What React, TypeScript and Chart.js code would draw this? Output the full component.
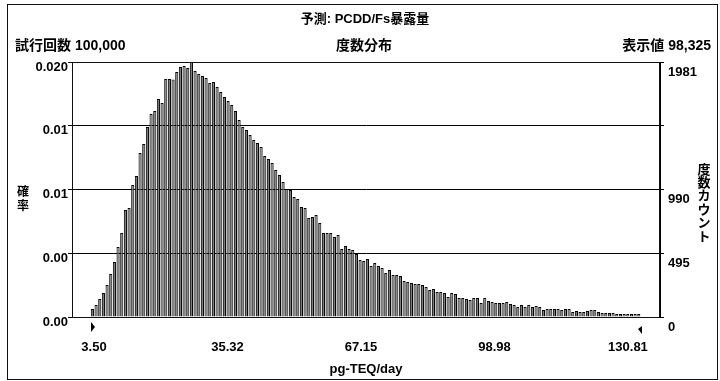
import React, { useEffect, useRef } from "react";
import { Chart, registerables } from "chart.js";

Chart.register(...registerables);

const TITLE = "予測: PCDD/Fs暴露量";
const SUBTITLE = "度数分布";
const TRIALS_LABEL = "試行回数 100,000";
const SHOWN_LABEL = "表示値 98,325";
const LEFT_AXIS_TITLE = "確率";
const RIGHT_AXIS_TITLE = "度数カウント";
const X_AXIS_TITLE = "pg-TEQ/day";

// x-axis tick values (pg-TEQ/day); first/last are the display range ends
const X_TICKS = [3.5, 35.32, 67.15, 98.98, 130.81];

// frequency counts per bin (150 bins between 3.50 and 130.81)
const COUNTS: number[] = [
  62, 93, 140, 186, 249, 334, 427, 544, 653, 831,
  847, 1026, 1096, 1274, 1344, 1476, 1577, 1601, 1694, 1663,
  1849, 1849, 1845, 1904, 1943, 1950, 1935, 1981, 1911, 1888,
  1873, 1857, 1818, 1826, 1787, 1748, 1709, 1678, 1647, 1601,
  1531, 1476, 1453, 1414, 1375, 1352, 1321, 1251, 1228, 1197,
  1142, 1103, 1049, 995, 987, 932, 917, 855, 847, 769,
  777, 793, 730, 653, 653, 653, 622, 637, 528, 552,
  528, 521, 490, 443, 435, 451, 396, 420, 396, 381,
  342, 365, 326, 326, 319, 280, 272, 264, 256, 256,
  249, 233, 210, 218, 194, 194, 186, 155, 186, 179,
  148, 148, 140, 132, 148, 148, 109, 148, 124, 117,
  109, 109, 109, 117, 101, 93, 78, 93, 78, 93,
  78, 85, 78, 54, 62, 62, 62, 62, 54, 62,
  62, 39, 47, 39, 39, 47, 54, 54, 39, 31,
  31, 31, 31, 23, 23, 23, 23, 23, 23, 23,
];

// y-axis ticks (counts) and their labels
const Y_TICKS = [0, 495.25, 990.5, 1485.75, 1981];
const PROB_LABELS = ["0.00", "0.00", "0.01", "0.01", "0.020"];
const COUNT_LABELS = ["0", "495", "990", "", "1981"];

// layout constants
const X_MIN = -0.8;
const X_MAX = 135.3;
const XL_MIN = -1.75;
const XL_MAX = 138.45;

const FONT = "'Liberation Sans', Arial, 'Noto Sans CJK JP', sans-serif";

const decor = {
  id: "decor",
  afterDraw(chart: any) {
    const { ctx, chartArea, scales } = chart;
    ctx.save();
    ctx.strokeStyle = "#111";
    ctx.lineWidth = 1;
    // outer frame
    ctx.strokeRect(7.5, 4.5, 710, 375);
    // plot box
    ctx.strokeRect(
      Math.round(chartArea.left) + 0.5,
      Math.round(chartArea.top) + 0.5,
      Math.round(chartArea.right - chartArea.left) - 1,
      Math.round(chartArea.bottom - chartArea.top)
    );
    ctx.fillStyle = "#000";
    ctx.textBaseline = "middle";
    // title
    ctx.font = `bold 13px ${FONT}`;
    ctx.textAlign = "center";
    ctx.fillText(TITLE, 365, 19);
    ctx.font = `bold 14px ${FONT}`;
    ctx.fillText(SUBTITLE, 364, 46);
    ctx.textAlign = "left";
    ctx.fillText(TRIALS_LABEL, 15, 46);
    ctx.textAlign = "right";
    ctx.fillText(SHOWN_LABEL, 711, 46);
    // vertical axis titles
    ctx.textAlign = "center";
    ctx.font = `bold 12px ${FONT}`;
    Array.from(LEFT_AXIS_TITLE).forEach((ch, i) => ctx.fillText(ch, 23, 193 + i * 14));
    ctx.font = `bold 13px ${FONT}`;
    Array.from(RIGHT_AXIS_TITLE).forEach((ch, i) => ctx.fillText(ch, 704, 170 + i * 13.4));
    // x title
    ctx.fillText(X_AXIS_TITLE, (chartArea.left + chartArea.right) / 2, 369);
    // range markers
    const xs = scales.x;
    const x0 = Math.round(xs.getPixelForValue(X_TICKS[0]));
    const x1 = Math.round(xs.getPixelForValue(X_TICKS[X_TICKS.length - 1]));
    const yb = chartArea.bottom;
    ctx.beginPath();
    ctx.moveTo(x0, yb + 5);
    ctx.lineTo(x0 + 4, yb + 10);
    ctx.lineTo(x0, yb + 15);
    ctx.closePath();
    ctx.fill();
    ctx.beginPath();
    ctx.moveTo(x1 + 1, yb + 9);
    ctx.lineTo(x1 - 3, yb + 12);
    ctx.lineTo(x1 + 1, yb + 17);
    ctx.closePath();
    ctx.fill();
    ctx.restore();
  },
};

export default function App() {
  const ref = useRef<HTMLCanvasElement | null>(null);

  useEffect(() => {
    if (!ref.current) return;
    const lo = X_TICKS[0];
    const hi = X_TICKS[X_TICKS.length - 1];
    const w = (hi - lo) / COUNTS.length;
    const data = COUNTS.map((c, i) => ({ x: lo + (i + 0.5) * w, y: c }));

    const chart = new Chart(ref.current, {
      type: "bar",
      data: {
        datasets: [
          {
            data: data as any,
            xAxisID: "x",
            yAxisID: "y",
            backgroundColor: "#7a7a7a",
            borderColor: "#000",
            borderWidth: 1,
            barPercentage: 0.85,
            categoryPercentage: 1,
          },
        ],
      },
      options: {
        responsive: false,
        animation: false,
        devicePixelRatio: 1,
        layout: { padding: { top: 62, left: 0, right: 0, bottom: 0 } },
        plugins: {
          legend: { display: false },
          tooltip: { enabled: false },
          title: { display: false },
        },
        scales: {
          x: {
            type: "linear",
            display: false,
            min: X_MIN,
            max: X_MAX,
            offset: false,
          },
          xl: {
            type: "linear",
            position: "bottom",
            min: XL_MIN,
            max: XL_MAX,
            offset: false,
            grid: { display: false, drawTicks: false, offset: false },
            border: { display: false },
            afterBuildTicks: (s: any) => {
              s.ticks = X_TICKS.map((v) => ({ value: v }));
            },
            afterFit: (s: any) => {
              s.height = 64;
            },
            ticks: {
              padding: 23,
              color: "#000",
              font: { family: FONT, size: 13, weight: "bold" },
              maxRotation: 0,
              autoSkip: false,
              callback: (v: any) => Number(v).toFixed(2),
            },
          },
          y: {
            type: "linear",
            position: "left",
            min: 0,
            max: Y_TICKS[Y_TICKS.length - 1],
            z: 1,
            afterBuildTicks: (s: any) => {
              s.ticks = Y_TICKS.map((v) => ({ value: v }));
            },
            afterFit: (s: any) => {
              s.width = 72;
            },
            grid: { color: "#000", lineWidth: 1, tickLength: 4, drawTicks: true },
            border: { display: true, color: "#000" },
            ticks: {
              padding: 0,
              labelOffset: 5,
              color: "#000",
              autoSkip: false,
              font: { family: FONT, size: 13, weight: "bold" },
              callback: (_v: any, i: number) => PROB_LABELS[i],
            },
          },
          y2: {
            type: "linear",
            position: "right",
            min: 0,
            max: Y_TICKS[Y_TICKS.length - 1],
            afterBuildTicks: (s: any) => {
              s.ticks = Y_TICKS.map((v) => ({ value: v }));
            },
            afterFit: (s: any) => {
              s.width = 60;
            },
            grid: { drawOnChartArea: false, color: "#000", tickLength: 4 },
            border: { display: true, color: "#000" },
            ticks: {
              padding: 4,
              labelOffset: 10,
              color: "#000",
              autoSkip: false,
              font: { family: FONT, size: 13, weight: "bold" },
              callback: (_v: any, i: number) => COUNT_LABELS[i],
            },
          },
        },
      },
      plugins: [decor],
    });
    return () => chart.destroy();
  }, []);

  return (
    <div
      style={{
        position: "fixed",
        left: 0,
        top: 0,
        width: 720,
        height: 381,
        background: "#fff",
      }}
    >
      <canvas ref={ref} width={720} height={381} style={{ display: "block" }} />
    </div>
  );
}
